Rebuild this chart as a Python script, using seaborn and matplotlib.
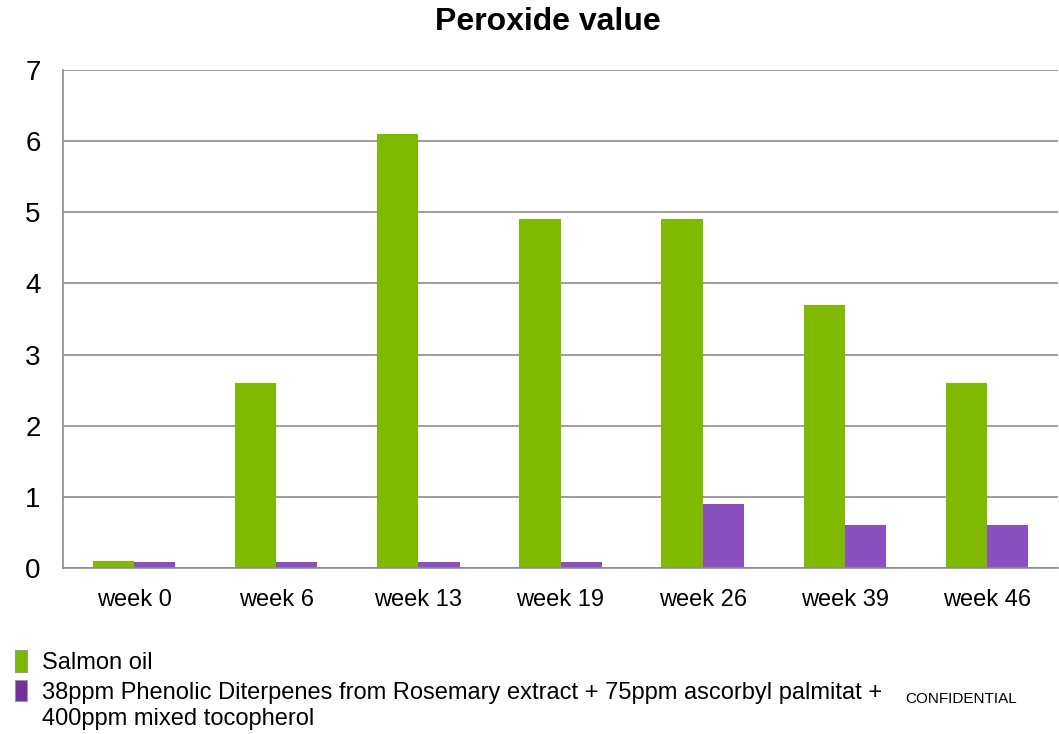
import matplotlib
matplotlib.use("Agg")
import matplotlib.pyplot as plt
import seaborn as sns
import pandas as pd
from matplotlib.patches import Patch

categories = ["week 0", "week 6", "week 13", "week 19", "week 26", "week 39", "week 46"]
salmon_oil = [0.1, 2.6, 6.1, 4.9, 4.9, 3.7, 2.6]
treated = [0.08, 0.08, 0.08, 0.08, 0.9, 0.6, 0.6]
series_names = ["Salmon oil",
                "38ppm Phenolic Diterpenes from Rosemary extract + 75ppm ascorbyl palmitat +"]
legend_cont = "400ppm mixed tocopherol"
title = "Peroxide value"
y_ticks = [0, 1, 2, 3, 4, 5, 6, 7]

bar_colors = ["#80BA00", "#8B50BF"]
legend_colors = ["#7AB800", "#7030A0"]

sns.set_theme(style="white")
plt.rcParams["font.family"] = ["Liberation Sans", "DejaVu Sans"]
plt.rcParams["text.color"] = "black"
plt.rcParams["xtick.color"] = "black"
plt.rcParams["ytick.color"] = "black"
plt.rcParams["xtick.labelcolor"] = "black"
plt.rcParams["ytick.labelcolor"] = "black"

df = pd.DataFrame({
    "week": categories * 2,
    "value": salmon_oil + treated,
    "series": [series_names[0]] * len(categories) + [series_names[1]] * len(categories),
})

fig = plt.figure(figsize=(10.59, 7.34), dpi=100)
ax = fig.add_axes([63 / 1059, 1 - 568 / 734, (1058 - 63) / 1059, (568 - 70) / 734])

sns.barplot(data=df, x="week", y="value", hue="series", palette=bar_colors,
            width=0.58, gap=0, ax=ax, legend=False, saturation=1,
            edgecolor="none", linewidth=0)

ax.set_ylim(0, 7)
ax.set_xlim(-0.5, len(categories) - 0.5)
ax.set_yticks(y_ticks)
ax.set_yticklabels([str(t) for t in y_ticks], fontsize=20)
ax.set_xlabel("")
ax.set_ylabel("")
ax.grid(axis="y", color="#8c8c8c", linewidth=1.2)
ax.set_axisbelow(True)
for s in ["top", "right"]:
    ax.spines[s].set_visible(False)
for s in ["left", "bottom"]:
    ax.spines[s].set_color("#8c8c8c")
    ax.spines[s].set_linewidth(1.2)

# x labels at category centres, tick marks at boundaries
ax.set_xticks(range(len(categories)))
ax.set_xticklabels(categories, fontsize=17)
ax.tick_params(axis="x", length=0, pad=15)
ax.set_xticks([i + 0.5 for i in range(len(categories) - 1)] + [-0.5], minor=True)
ax.tick_params(axis="x", which="minor", length=6, color="#8c8c8c", width=1.2, direction="out")
ax.tick_params(axis="y", length=6, color="#8c8c8c", width=1.2, direction="out", pad=10)

fig.text(548 / 1059, 1 - 22 / 734, title, ha="center", va="center",
         fontsize=23, fontweight="bold", color="black")

handles = [Patch(facecolor=legend_colors[i], edgecolor="#9a9a9a", linewidth=0.8)
           for i in range(2)]
fig.legend(handles, series_names, loc="upper left", bbox_to_anchor=(0.0053, 1 - 641 / 734),
           frameon=False, fontsize=17, handlelength=0.52, handleheight=1.0,
           handletextpad=0.64, labelspacing=0.25, borderaxespad=0)
fig.text(42 / 1059, 1 - 719 / 734, legend_cont, ha="left", va="center", fontsize=17)
fig.text(905 / 1059, 1 - 699 / 734, "CONFIDENTIAL", ha="left", va="center", fontsize=11)

fig.savefig("out.png", dpi=100)
